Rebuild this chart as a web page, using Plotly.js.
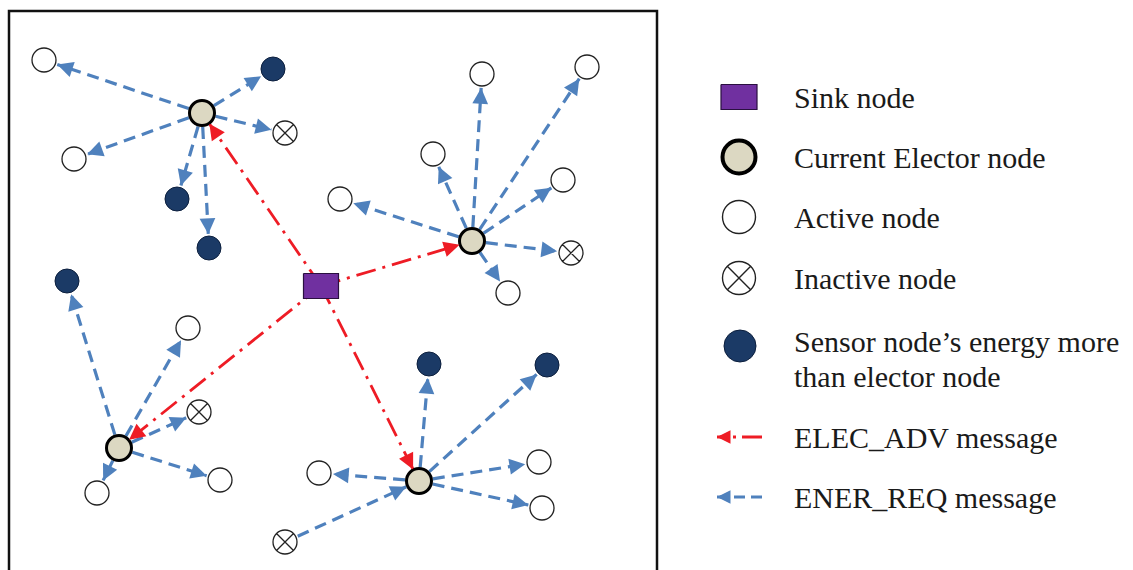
<!DOCTYPE html>
<html>
<head>
<meta charset="utf-8">
<script src="https://cdn.plot.ly/plotly-3.0.1.min.js"></script>
<style>html,body{margin:0;padding:0;background:#fff;}#chart{width:1133px;height:570px;}</style>
</head>
<body>
<div id="chart"></div>
<script>
// ---- Data (node positions, in picture pixels) ----
const nodeIds   = ['S','E1','E2','E3','E4',
  'a1','a2','a3','a4','a5','a6','a7','a8','a9','a10','a11','a12','a13','a14',
  'x1','x2','x3','x4',
  'd1','d2','d3','d4','d5','d6'];
const nodeX     = [321,202,472,119,419,
  44,74,482,587,433,340,563,508,188,220,97,319,539,542,
  285,571,199,285,
  273,177,209,67,429,547];
const nodeY     = [286,113,241,448,481,
  60,159,74,67,154,199,180,293,328,480,493,473,462,508,
  133,253,412,542,
  69,199,248,281,364,365];
const nodeTypes = ['sink','elector','elector','elector','elector',
  'active','active','active','active','active','active','active','active','active','active','active','active','active','active',
  'inactive','inactive','inactive','inactive',
  'energy','energy','energy','energy','energy','energy'];

// ENER_REQ messages (blue) and ELEC_ADV messages (red): from -> to
const enerFrom = ['E1','E1','E1','E1','E1','E1',
  'E2','E2','E2','E2','E2','E2','E2',
  'E3','E3','E3','E3','E3',
  'E4','E4','E4','E4','E4','x4'];
const enerTo   = ['a1','d1','x1','a2','d2','d3',
  'a3','a4','a5','a6','a7','x2','a8',
  'd4','a9','x3','a11','a10',
  'd5','d6','a12','a13','a14','E4'];
const elecFrom = ['S','S','S','S'];
const elecTo   = ['E1','E2','E3','E4'];

const legendLabels = ['Sink node','Current Elector node','Active node','Inactive node',
  'Sensor node\u2019s energy more','than elector node','ELEC_ADV message','ENER_REQ message'];

// ---- Styles ----
const BLUE = '#4F81BD', RED = '#EE1C25', NAVY = '#1B3A66', BEIGE = '#DCD8C2', PURPLE = '#7030A0';
const FONT = 'Liberation Serif, Times New Roman, serif';

const idx = id => nodeIds.indexOf(id);
function seg(fromId, toId, g0, g1) {
  const i = idx(fromId), j = idx(toId);
  const x0 = nodeX[i], y0 = nodeY[i], x1 = nodeX[j], y1 = nodeY[j];
  const d = Math.hypot(x1 - x0, y1 - y0), ux = (x1 - x0) / d, uy = (y1 - y0) / d;
  return {x: [x0 + ux * g0, x1 - ux * g1], y: [y0 + uy * g0, y1 - uy * g1], ux: ux, uy: uy};
}
function gapOf(id) { const t = nodeTypes[idx(id)]; return t === 'sink' ? 0 : 14; }

const traces = [];
const annotations = [];
function arrowHead(x, y, ux, uy, color, sz) {
  // tip at (x, y); short tail pointing back along the line (pixel offsets)
  annotations.push({x: x, y: y, xref:'x', yref:'y', ax: -ux * 8, ay: -uy * 8, text:'', width:1, height:1, borderpad:0,
    showarrow:true, arrowhead:2, arrowsize:sz, arrowwidth:3, arrowcolor:color, standoff:0, font:{size:1}});
}
// blue dashed arrows
enerFrom.forEach((f, k) => {
  const s = seg(f, enerTo[k], gapOf(f), gapOf(enerTo[k]));
  traces.push({type:'scatter', mode:'lines', x:s.x, y:s.y, hoverinfo:'skip', showlegend:false,
    line:{color:BLUE, width:3.2, dash:'12px,7px'}});
  arrowHead(s.x[1], s.y[1], s.ux, s.uy, BLUE, 1.05);
});
// red dash-dot arrows
elecFrom.forEach((f, k) => {
  const s = seg(f, elecTo[k], 0, 13);
  traces.push({type:'scatter', mode:'lines', x:s.x, y:s.y, hoverinfo:'skip', showlegend:false,
    line:{color:RED, width:2.8, dash:'20px,7px,3px,7px'}});
  arrowHead(s.x[1], s.y[1], s.ux, s.uy, RED, 1.05);
});

// nodes
function pick(type) {
  const xs = [], ys = [];
  nodeTypes.forEach((t, i) => { if (t === type) { xs.push(nodeX[i]); ys.push(nodeY[i]); } });
  return {x: xs, y: ys};
}
const styles = {
  active:   {symbol:'circle',   size:24, color:'#fff', line:{color:'#222', width:1.3}},
  inactive: {symbol:'circle-x', size:24, color:'#fff', line:{color:'#222', width:1.3}},
  energy:   {symbol:'circle',   size:24, color:NAVY,   line:{color:'#0c1f3d', width:1}},
  elector:  {symbol:'circle',   size:25, color:BEIGE,  line:{color:'#000', width:3}}
};
['active','inactive','energy','elector'].forEach(t => {
  const p = pick(t);
  traces.push({type:'scatter', mode:'markers', x:p.x, y:p.y, hoverinfo:'skip', showlegend:false, marker:styles[t]});
});
// sink rectangle (centred on the sink node position)
const sk = pick('sink'), hw = 17.5, hh = 12.5;
traces.push({type:'scatter', mode:'lines', fill:'toself', fillcolor:PURPLE, hoverinfo:'skip', showlegend:false,
  x:[sk.x[0]-hw, sk.x[0]+hw, sk.x[0]+hw, sk.x[0]-hw, sk.x[0]-hw],
  y:[sk.y[0]-hh, sk.y[0]-hh, sk.y[0]+hh, sk.y[0]+hh, sk.y[0]-hh],
  line:{color:'#2a1040', width:1.2}});

// ---- Legend (drawn by hand on the right) ----
const LX = 739, TX = 792;
const rowY = [97, 157, 217, 278, 346, 437, 497];
traces.push({type:'scatter', mode:'lines', fill:'toself', fillcolor:PURPLE, hoverinfo:'skip', showlegend:false,
  x:[LX-18, LX+18, LX+18, LX-18, LX-18], y:[rowY[0]-12.5, rowY[0]-12.5, rowY[0]+12.5, rowY[0]+12.5, rowY[0]-12.5],
  line:{color:'#2a1040', width:1.2}});
traces.push({type:'scatter', mode:'markers', x:[LX], y:[rowY[1]], hoverinfo:'skip', showlegend:false,
  marker:{symbol:'circle', size:33, color:BEIGE, line:{color:'#000', width:4}}});
traces.push({type:'scatter', mode:'markers', x:[LX], y:[rowY[2]], hoverinfo:'skip', showlegend:false,
  marker:{symbol:'circle', size:33, color:'#fff', line:{color:'#222', width:1.4}}});
traces.push({type:'scatter', mode:'markers', x:[LX], y:[rowY[3]], hoverinfo:'skip', showlegend:false,
  marker:{symbol:'circle-x', size:33, color:'#fff', line:{color:'#222', width:1.4}}});
traces.push({type:'scatter', mode:'markers', x:[LX+1], y:[rowY[4]], hoverinfo:'skip', showlegend:false,
  marker:{symbol:'circle', size:32, color:NAVY, line:{color:'#0c1f3d', width:1}}});
traces.push({type:'scatter', mode:'lines', x:[762, 717], y:[rowY[5], rowY[5]], hoverinfo:'skip', showlegend:false,
  line:{color:RED, width:2.8, dash:'20px,6px,3px,6px'}});
arrowHead(717, rowY[5], -1, 0, RED, 0.9);
traces.push({type:'scatter', mode:'lines', x:[762, 717], y:[rowY[6], rowY[6]], hoverinfo:'skip', showlegend:false,
  line:{color:BLUE, width:3, dash:'11px,6px'}});
arrowHead(717, rowY[6], -1, 0, BLUE, 0.9);

const textY = [97, 157, 217, 278, 341, 376, 437, 497];
legendLabels.forEach((t, k) => annotations.push({
  text: t, x: TX, y: textY[k], xref:'x', yref:'y', xanchor:'left', yanchor:'middle', showarrow:false,
  font:{family:FONT, size:30, color:'#1a1a1a'}
}));

const layout = {
  width:1133, height:570, margin:{l:0, r:0, t:0, b:0},
  paper_bgcolor:'#fff', plot_bgcolor:'#fff', showlegend:false,
  xaxis:{range:[0,1133], visible:false, fixedrange:true},
  yaxis:{range:[570,0], visible:false, fixedrange:true},
  shapes:[{type:'rect', xref:'x', yref:'y', x0:9, x1:657, y0:11, y1:620, line:{color:'#111', width:2.5}, fillcolor:'rgba(0,0,0,0)', layer:'below'}],
  annotations: annotations
};
Plotly.newPlot('chart', traces, layout, {staticPlot:true, displayModeBar:false});
</script>
</body>
</html>
